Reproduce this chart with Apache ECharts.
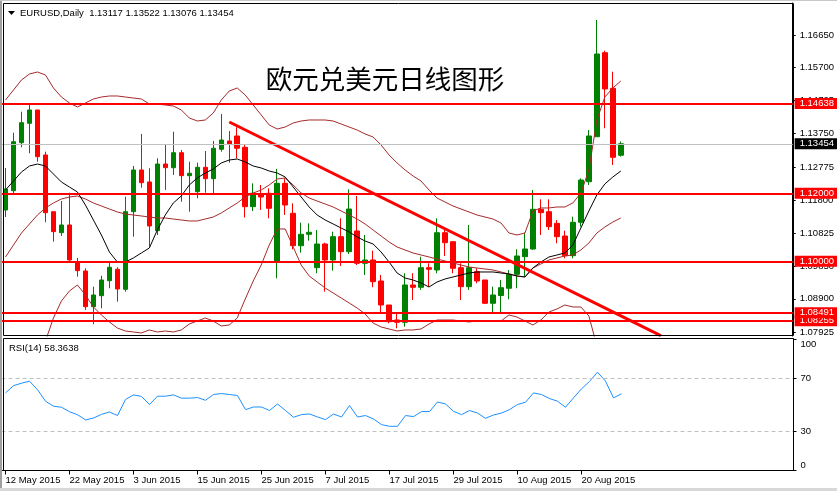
<!DOCTYPE html>
<html><head><meta charset="utf-8">
<script src="https://cdn.jsdelivr.net/npm/echarts@6/dist/echarts.min.js"></script>
<style>html,body{margin:0;padding:0;background:#fff}#c{width:837px;height:491px}</style>
</head><body><div id="c"></div>
<script>
const symbolName = 'EURUSD,Daily';
const titleText = '欧元兑美元日线图形';
const dates = [
'12 May 2015','13 May 2015','14 May 2015','15 May 2015','18 May 2015','19 May 2015','20 May 2015','21 May 2015','22 May 2015',
'25 May 2015','26 May 2015','27 May 2015','28 May 2015','29 May 2015','1 Jun 2015','2 Jun 2015','3 Jun 2015','4 Jun 2015','5 Jun 2015',
'8 Jun 2015','9 Jun 2015','10 Jun 2015','11 Jun 2015','12 Jun 2015','15 Jun 2015','16 Jun 2015','17 Jun 2015','18 Jun 2015','19 Jun 2015',
'22 Jun 2015','23 Jun 2015','24 Jun 2015','25 Jun 2015','26 Jun 2015','29 Jun 2015','30 Jun 2015','1 Jul 2015','2 Jul 2015','3 Jul 2015',
'6 Jul 2015','7 Jul 2015','8 Jul 2015','9 Jul 2015','10 Jul 2015','13 Jul 2015','14 Jul 2015','15 Jul 2015','16 Jul 2015','17 Jul 2015',
'20 Jul 2015','21 Jul 2015','22 Jul 2015','23 Jul 2015','24 Jul 2015','27 Jul 2015','28 Jul 2015','29 Jul 2015','30 Jul 2015','31 Jul 2015',
'3 Aug 2015','4 Aug 2015','5 Aug 2015','6 Aug 2015','7 Aug 2015','10 Aug 2015','11 Aug 2015','12 Aug 2015','13 Aug 2015','14 Aug 2015',
'17 Aug 2015','18 Aug 2015','19 Aug 2015','20 Aug 2015','21 Aug 2015','24 Aug 2015','25 Aug 2015','26 Aug 2015','27 Aug 2015'];

const open = [1.11509,1.12076,1.13486,1.14056,1.14447,1.13125,1.11459,1.10842,1.11068,1.0999,
1.09717,1.08668,1.08991,1.09432,1.09767,1.09179,1.11459,1.12684,1.12332,1.10901,
1.1286,1.12752,1.13192,1.12517,1.12047,1.12763,1.12429,1.13292,1.13536,1.13683,
1.13351,1.11606,1.1195,1.12,1.0999,1.12293,1.11412,1.1046,1.10795,1.09814,
1.1051,1.1004,1.10725,1.10284,1.10892,1.09943,1.1004,1.09423,1.08718,1.08278,
1.0821,1.09306,1.09238,1.09814,1.09746,1.10842,1.10578,1.09814,1.09256,1.09697,
1.09453,1.08768,1.08997,1.09209,1.0962,1.10137,1.10363,1.1153,1.11459,1.11118,
1.10745,1.10167,1.11148,1.1234,1.13662,1.1613,1.15084,1.13117];
const close = [1.12126,1.13515,1.14074,1.14447,1.13075,1.1143,1.10872,1.11068,1.1004,1.09726,
1.08668,1.09012,1.09453,1.09826,1.09188,1.11459,1.12684,1.12311,1.11039,1.1286,
1.12752,1.13192,1.12517,1.12587,1.12763,1.12429,1.13322,1.13565,1.13448,1.13322,
1.11606,1.12,1.11891,1.11559,1.12293,1.11656,1.1046,1.10795,1.10854,1.1051,
1.1004,1.10725,1.10284,1.11538,1.09943,1.1004,1.09403,1.08718,1.08228,1.0821,
1.09306,1.09238,1.09814,1.09767,1.10842,1.10548,1.09796,1.09256,1.09814,1.09423,
1.08768,1.09012,1.09226,1.0962,1.10158,1.10363,1.1153,1.1143,1.11018,1.10725,
1.10167,1.11148,1.1239,1.13683,1.16092,1.15064,1.13057,1.13454];
const high = [1.12743,1.1378,1.14397,1.14623,1.14447,1.13222,1.11459,1.11773,1.12017,1.10099,
1.09796,1.09256,1.09579,1.0999,1.09826,1.119,1.12802,1.13742,1.12734,1.13028,
1.13419,1.13809,1.13272,1.12928,1.12899,1.13242,1.13536,1.14329,1.1383,1.13939,
1.13419,1.12293,1.12243,1.12147,1.12714,1.1244,1.11706,1.11136,1.11118,1.10922,
1.10548,1.10872,1.11265,1.12117,1.1192,1.10775,1.10313,1.096,1.08718,1.08474,
1.0965,1.0965,1.10137,1.09943,1.11265,1.10922,1.10578,1.09943,1.11068,1.09796,
1.09453,1.09256,1.09453,1.09746,1.10355,1.10842,1.12097,1.11823,1.11823,1.11215,
1.10901,1.11312,1.1244,1.13859,1.17091,1.16189,1.15572,1.13522];
const low = [1.11303,1.1195,1.13351,1.13175,1.12928,1.11148,1.10578,1.10745,1.1002,1.0955,
1.08571,1.08151,1.08621,1.09209,1.08815,1.09109,1.10725,1.12164,1.10431,1.10775,
1.12097,1.12537,1.11753,1.11459,1.11853,1.12017,1.12,1.13222,1.12899,1.13028,
1.11289,1.1148,1.11509,1.11265,1.09503,1.11362,1.10355,1.10255,1.10607,1.0965,
1.09109,1.09726,1.09864,1.10216,1.09893,1.096,1.09238,1.08474,1.08181,1.08034,
1.08081,1.08865,1.09159,1.09256,1.0965,1.10158,1.0965,1.08865,1.09159,1.09356,
1.08748,1.08474,1.08474,1.08886,1.09209,1.0955,1.10334,1.10775,1.10922,1.10531,
1.1009,1.1009,1.11018,1.12243,1.13662,1.13909,1.12831,1.13076];

const bbUpper = [1.1474,1.15034,1.15328,1.15504,1.15563,1.15475,1.15093,1.14828,1.14652,1.14535,
1.14652,1.1477,1.14828,1.14858,1.14858,1.14828,1.14799,1.1477,1.14623,1.14623,
1.14593,1.14564,1.14447,1.14212,1.14123,1.14153,1.14358,1.1474,1.15005,1.15093,
1.14887,1.14593,1.143,1.14006,1.13888,1.13947,1.14065,1.14123,1.14153,1.14153,
1.14153,1.14123,1.14035,1.13947,1.13859,1.13742,1.13653,1.13418,1.13125,1.1289,
1.12684,1.12508,1.12361,1.12096,1.11861,1.11744,1.11626,1.11538,1.1145,1.11362,
1.11303,1.11244,1.11127,1.10833,1.10774,1.10833,1.1148,1.11568,1.11568,1.11597,
1.11597,1.11715,1.12008,1.12684,1.14153,1.14828,1.15093,1.15299];
const bbMiddle = [1.10128,1.10481,1.10833,1.11098,1.11362,1.11568,1.11715,1.11832,1.11891,1.1192,
1.11832,1.11715,1.11626,1.11538,1.1145,1.11391,1.11362,1.11333,1.11303,1.11274,
1.11274,1.11244,1.11215,1.11186,1.11186,1.11244,1.11303,1.11421,1.11568,1.11715,
1.11891,1.12008,1.12096,1.12243,1.1242,1.12449,1.12243,1.12008,1.11861,1.11773,
1.11685,1.11597,1.1148,1.11362,1.11244,1.11098,1.10921,1.10745,1.10569,1.10422,
1.10334,1.10246,1.10187,1.10128,1.10069,1.10011,1.09952,1.09893,1.09834,1.09805,
1.09776,1.09746,1.09688,1.09629,1.0957,1.09541,1.09805,1.09923,1.1004,1.10099,
1.10158,1.10187,1.10334,1.10539,1.10833,1.11009,1.11156,1.11274];
const bbLower = [1.05516,1.05927,1.06339,1.06691,1.07161,1.0766,1.08336,1.08836,1.09129,1.09306,
1.09012,1.08659,1.08424,1.08219,1.08042,1.07954,1.07925,1.07896,1.07984,1.07925,
1.07954,1.07925,1.07984,1.0816,1.08248,1.08336,1.08248,1.08101,1.08131,1.08336,
1.08894,1.09423,1.09893,1.10481,1.10951,1.10951,1.10422,1.09893,1.0957,1.09394,
1.09217,1.09071,1.08924,1.08777,1.0863,1.08454,1.08189,1.08072,1.08013,1.07954,
1.07984,1.07984,1.08013,1.0816,1.08277,1.08277,1.08277,1.08248,1.08219,1.08248,
1.08248,1.08248,1.08248,1.08424,1.08366,1.08248,1.08131,1.08277,1.08512,1.086,
1.08718,1.08659,1.08659,1.08395,1.07514,1.0719,1.0722,1.07249];
const ma = [1.12096,1.12361,1.12625,1.12801,1.1286,1.12801,1.12566,1.12331,1.12184,1.12038,
1.11656,1.11215,1.10774,1.10275,1.09981,1.09981,1.10099,1.10246,1.10392,1.10921,
1.11362,1.11715,1.1192,1.12243,1.12449,1.12596,1.12713,1.1289,1.12978,1.13007,
1.12919,1.12801,1.12743,1.12654,1.12596,1.12478,1.12184,1.11891,1.11597,1.11362,
1.11215,1.11098,1.1098,1.10863,1.10716,1.10598,1.1051,1.10275,1.09981,1.09658,
1.09511,1.09452,1.09364,1.09247,1.09394,1.09482,1.09541,1.09599,1.09658,1.09688,
1.09688,1.09688,1.09658,1.09629,1.0957,1.09541,1.09805,1.09981,1.10128,1.10187,
1.10246,1.10481,1.1098,1.1148,1.1195,1.12273,1.12478,1.12654];
const rsi = [59.0,64.5,66.4,67.9,61.5,52.7,48.9,48.1,44.7,42.4,
38.5,39.9,42.7,44.5,41.8,54.0,57.5,56.3,50.2,56.5,
56.5,57.5,55.0,55.0,55.5,53.4,57.8,58.5,57.8,57.0,
46.3,48.3,48.3,45.6,50.6,45.6,40.5,42.5,43.0,40.7,
38.7,43.0,40.7,49.4,40.7,41.8,39.2,34.9,33.6,33.6,
41.8,41.0,44.8,44.8,52.1,50.6,45.0,42.5,45.6,43.7,
39.7,42.2,43.7,46.3,50.2,51.9,59.0,57.8,54.7,52.7,
48.1,55.2,62.1,67.7,74.8,67.9,55.2,58.3638];

const levels = [1.14638, 1.12000, 1.10000, 1.08255, 1.08491];
const lastPrice = 1.13454;
const trendLine = [[28, 1.14094], [82, 1.07816]];
const priceTicks = [1.07925, 1.08900, 1.09850, 1.10825, 1.11800, 1.12775, 1.13750, 1.14725, 1.15700, 1.16650];
const rsiTicks = [0, 30, 70, 100];
const rsiLevels = [70, 30];

const SLOTS = 99;
const cats = dates.concat(Array.from({length: SLOTS - dates.length}, (_, k) => 'slot' + k));
const showIdx = (idx) => idx % 8 === 0 && idx < dates.length;
const FONT = 'Liberation Sans';
const n = dates.length - 1;

const chart = echarts.init(document.getElementById('c'));
const bandLine = (data) => ({type:'line', xAxisIndex:0, yAxisIndex:0, data, symbol:'none', z:2,
  lineStyle:{color:'#a52a2a', width:1}, silent:true});
const levelLabel = (bg) => ({show:true, position:'end', distance:2, formatter:(p)=>Number(p.value).toFixed(5),
  color:'#fff', backgroundColor:bg, padding:[1,5,0,5], lineHeight:10, fontFamily:FONT, fontSize:9.5});

chart.setOption({
  animation:false,
  backgroundColor:'#ffffff',
  grid:[{left:1.5, top:3, width:792, height:333}, {left:1.5, top:339, width:792, height:131.5}],
  xAxis:[
    {type:'category', gridIndex:0, data:cats, axisLine:{show:false}, axisTick:{show:false}, axisLabel:{show:false}},
    {type:'category', gridIndex:1, data:cats, axisLine:{show:true, lineStyle:{color:'#000'}},
     axisTick:{show:true, alignWithLabel:true, interval:showIdx, length:4, lineStyle:{color:'#000'}},
     axisLabel:{interval:showIdx, align:'left', margin:5, color:'#000', fontFamily:FONT, fontSize:9.5}}
  ],
  yAxis:[
    {type:'value', gridIndex:0, position:'right', min:1.07807, max:1.1759, scale:true, splitLine:{show:false},
     axisLine:{show:true, lineStyle:{color:'#000'}},
     axisTick:{show:true, length:3, customValues:priceTicks, lineStyle:{color:'#000'}},
     axisLabel:{customValues:priceTicks, formatter:(v)=>Number(v).toFixed(5), margin:7, color:'#000', fontFamily:FONT, fontSize:9.5}},
    {type:'value', gridIndex:1, position:'right', min:0, max:100, splitLine:{show:false},
     axisLine:{show:true, lineStyle:{color:'#000'}},
     axisTick:{show:true, length:3, customValues:rsiTicks, lineStyle:{color:'#000'}},
     axisLabel:{customValues:rsiTicks, verticalAlignMinLabel:'bottom', verticalAlignMaxLabel:'top', margin:7, color:'#000', fontFamily:FONT, fontSize:9.5}}
  ],
  series:[
    {type:'candlestick', xAxisIndex:0, yAxisIndex:0, z:1, barWidth:5, silent:true,
     data: open.map((o, i) => [o, close[i], low[i], high[i]]),
     itemStyle:{color:'#008000', color0:'#ff0000', borderColor:'#008000', borderColor0:'#ff0000', borderWidth:1}},
    bandLine(bbUpper), bandLine(bbMiddle), bandLine(bbLower),
    {type:'line', xAxisIndex:0, yAxisIndex:0, data:ma, symbol:'none', z:2, silent:true, lineStyle:{color:'#000', width:1}},
    {type:'line', xAxisIndex:0, yAxisIndex:0, data:trendLine, symbol:'none', z:4, silent:true,
     lineStyle:{color:'#ff0000', width:3},
     markLine:{silent:true, symbol:['none','none'], animation:false, precision:5,
       data:[
         {yAxis:lastPrice, lineStyle:{color:'#c0c0c0', width:1, type:'solid'}, label:levelLabel('#000')}
       ].concat(levels.map(v => ({yAxis:v, lineStyle:{color:'#ff0000', width:2, type:'solid'}, label:levelLabel('#ff0000')})))
     }},
    {type:'line', xAxisIndex:1, yAxisIndex:1, data:rsi, symbol:'none', z:2, silent:true,
     lineStyle:{color:'#1e90ff', width:1},
     markLine:{silent:true, symbol:['none','none'], label:{show:false}, precision:2,
       lineStyle:{color:'#c0c0c0', width:1, type:[4,3]},
       data: rsiLevels.map(v => ({yAxis:v}))}}
  ],
  graphic:{elements:[
    {type:'rect', z:100, shape:{x:0, y:0, width:2, height:491}, style:{fill:'#a0a0a0'}},
    {type:'rect', z:100, shape:{x:0, y:0, width:837, height:1}, style:{fill:'#c8c8c8'}},
    {type:'rect', z:100, shape:{x:0, y:488, width:837, height:3}, style:{fill:'#d8d8d8'}},
    {type:'rect', z:100, shape:{x:3.5, y:3.5, width:790, height:332}, style:{fill:null, stroke:'#000', lineWidth:1}},
    {type:'rect', z:100, shape:{x:3.5, y:338.5, width:790, height:132}, style:{fill:null, stroke:'#000', lineWidth:1}},
    {type:'polygon', z:100, shape:{points:[[8,11],[15,11],[11.5,15]]}, style:{fill:'#000'}},
    {type:'text', z:100, x:20, y:13, style:{text: symbolName + '  ' + [open[n], high[n], low[n], close[n]].map(v=>v.toFixed(5)).join(' '),
      fontFamily:FONT, fontSize:9.5, fill:'#000', verticalAlign:'middle'}},
    {type:'text', z:100, x:385, y:79, style:{text:titleText, fontFamily:'Noto Sans CJK SC', fontSize:26.5, fill:'#000', align:'center', verticalAlign:'middle'}},
    {type:'text', z:100, x:9, y:348, style:{text:'RSI(14) ' + rsi[n].toFixed(4), fontFamily:FONT, fontSize:9.5, fill:'#000', verticalAlign:'middle'}}
  ]}
});
</script></body></html>
